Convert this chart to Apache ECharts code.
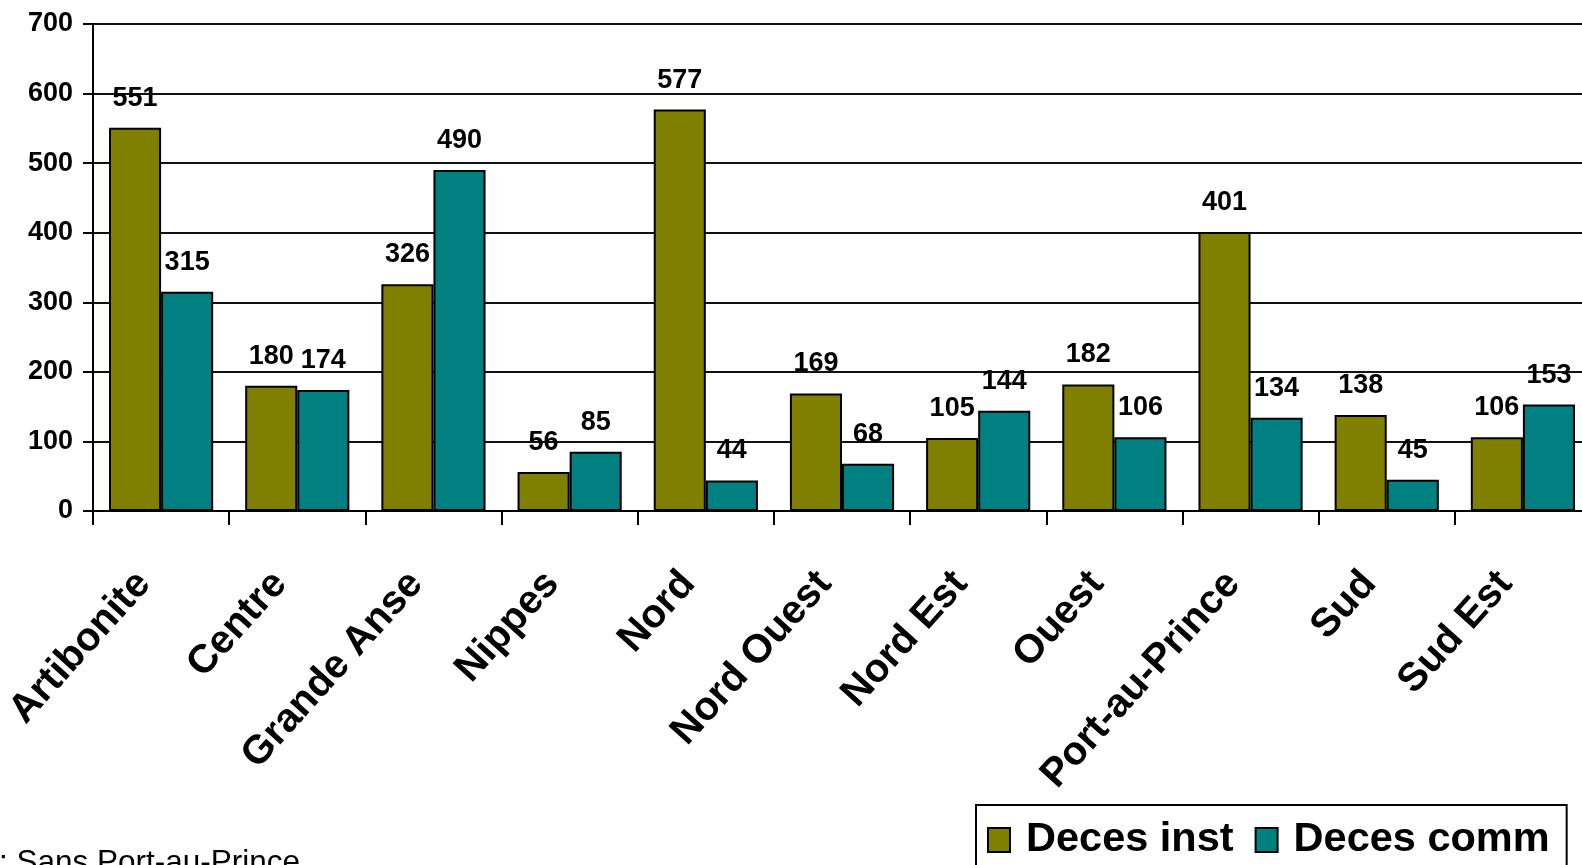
<!DOCTYPE html>
<html>
<head>
<meta charset="utf-8">
<script src="https://cdn.jsdelivr.net/npm/echarts@6/dist/echarts.min.js"></script>
<style>
html,body{margin:0;padding:0;background:#fff;}
#chart{width:1582px;height:865px;}
</style>
</head>
<body>
<div id="chart"></div>
<script>
var categories = ['Artibonite','Centre','Grande Anse','Nippes','Nord','Nord Ouest','Nord Est','Ouest','Port-au-Prince','Sud','Sud Est'];
var decesInst = [551,180,326,56,577,169,105,182,401,138,106];
var decesComm = [315,174,490,85,44,68,144,106,134,45,153];
var yTicks = [0,100,200,300,400,500,600,700];
var footnote = ': Sans Port-au-Prince';

var FONT = '"Liberation Sans", Arial, sans-serif';
var chart = echarts.init(document.getElementById('chart'));
var labelStyle = {
  show: true, position: 'top', distance: 16,
  fontFamily: FONT, fontWeight: 'bold', fontSize: 27, color: '#000'
};
chart.setOption({
  animation: false,
  backgroundColor: '#fff',
  grid: { left: 93, width: 1498, top: 24, bottom: 354, containLabel: false, outerBoundsMode: 'none' },
  legend: {
    left: 976, top: 805,
    itemWidth: 22, itemHeight: 24, itemGap: 21,
    padding: [13, 17, 30, 11],
    borderColor: '#000', borderWidth: 2,
    icon: 'rect',
    textStyle: { fontFamily: FONT, fontWeight: 'bold', fontSize: 41.5, lineHeight: 44, color: '#000', padding: [0,0,0,11] },
    data: ['Deces inst', 'Deces comm']
  },
  xAxis: {
    type: 'category', data: categories,
    axisLine: { lineStyle: { color: '#000', width: 2 } },
    axisTick: { show: true, length: 14, lineStyle: { color: '#000', width: 2 } },
    axisLabel: {
      rotate: 48, margin: 47, interval: 0, padding: [0, 26, 0, 0],
      fontFamily: FONT, fontWeight: 'bold', fontSize: 40, color: '#000'
    }
  },
  yAxis: {
    type: 'value', min: 0, max: 700, interval: 100,
    axisLine: { show: true, lineStyle: { color: '#000', width: 2 } },
    axisTick: { show: true, length: 10, lineStyle: { color: '#000', width: 2 } },
    axisLabel: {
      margin: 20, fontFamily: FONT, fontWeight: 'bold', fontSize: 27, color: '#000',
      formatter: function (v) { return yTicks.indexOf(v) >= 0 ? String(v) : ''; }
    },
    splitLine: { show: true, lineStyle: { color: '#111', width: 2 } }
  },
  series: [
    {
      name: 'Deces inst', type: 'bar', data: decesInst,
      barGap: '0%', barCategoryGap: '23.5%',
      itemStyle: { color: '#808000', borderColor: '#000', borderWidth: 2 },
      label: labelStyle
    },
    {
      name: 'Deces comm', type: 'bar', data: decesComm,
      itemStyle: { color: '#008080', borderColor: '#000', borderWidth: 2 },
      label: labelStyle
    }
  ],
  graphic: [{
    type: 'text', left: -1, top: 847,
    style: { text: footnote, fontFamily: FONT, fontSize: 31.5, fill: '#000' }
  }]
});
</script>
</body>
</html>
